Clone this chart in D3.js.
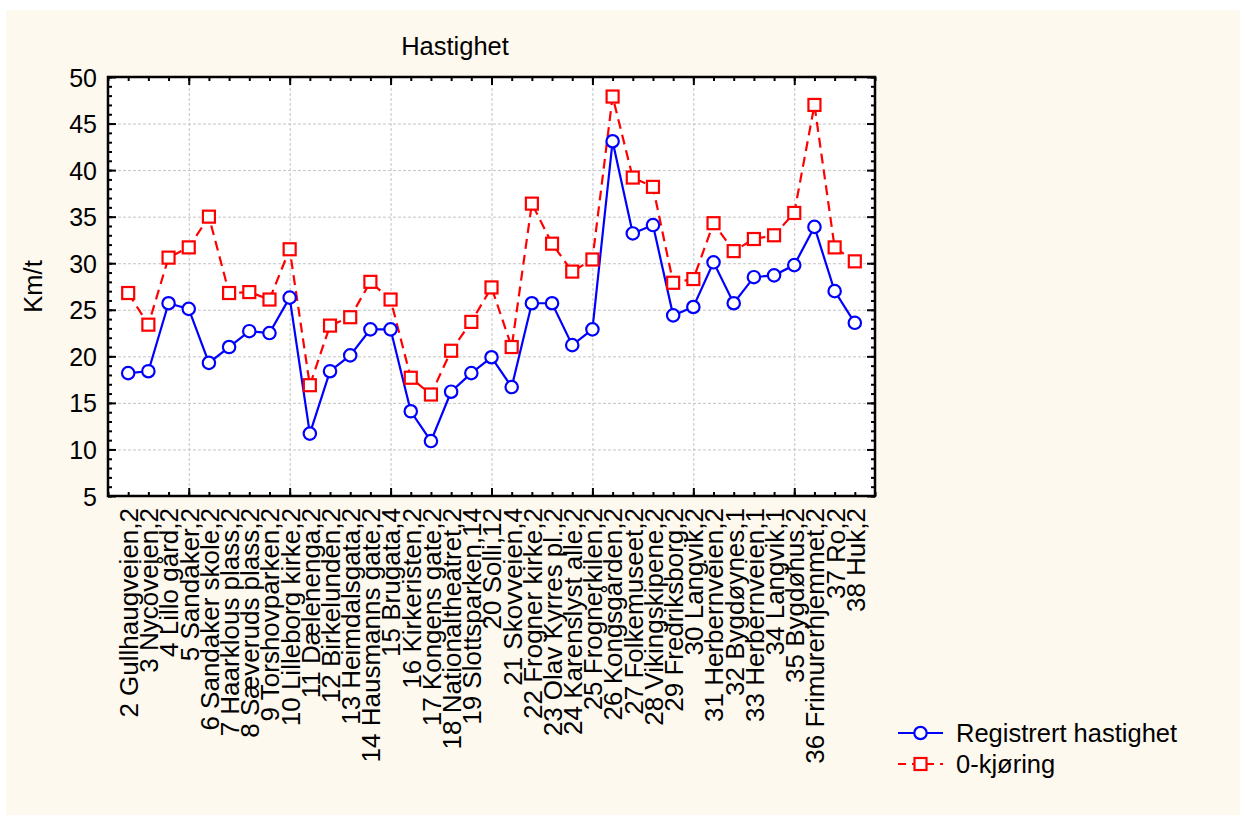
<!DOCTYPE html>
<html>
<head>
<meta charset="utf-8">
<script src="https://cdn.jsdelivr.net/npm/d3@7/dist/d3.min.js"></script>
<style>
  html, body { margin: 0; padding: 0; background: #ffffff; }
  svg { display: block; }
  text { font-family: "Liberation Sans", Arial, sans-serif; fill: #000; }
</style>
</head>
<body>
<svg id="chart" width="1245" height="818"></svg>
<script>
// ---- Data ----
const stations = [2,3,4,5,6,7,8,9,10,11,12,13,14,15,16,17,18,19,20,21,22,23,24,25,26,27,28,29,30,31,32,33,34,35,36,37,38];
const stationLabels = [
  "2 Gullhaugveien,2","3 Nycoveien,2","4 Lillo gård,2","5 Sandaker,2","6 Sandaker skole,2",
  "7 Haarklous plass,2","8 Sæveruds plass,2","9 Torshovparken,2","10 Lilleborg kirke,2","11 Dælenenga,2",
  "12 Birkelunden,2","13 Heimdalsgata,2","14 Hausmanns gate,2","15 Brugata,4","16 Kirkeristen,2",
  "17 Kongens gate,2","18 Nationaltheatret,2","19 Slottsparken,14","20 Solli,12","21 Skovveien,4",
  "22 Frogner kirke,2","23 Olav Kyrres pl.,2","24 Karenslyst alle,2","25 Frognerkilen,2","26 Kongsgården,2",
  "27 Folkemuseet,2","28 Vikingskipene,2","29 Fredriksborg,2","30 Langvik,2","31 Herbernveien,2",
  "32 Bygdøynes,1","33 Herbernveien,1","34 Langvik,1","35 Bygdøhus,2","36 Frimurerhjemmet,2",
  "37 Ro,2","38 Huk,2"
];
const registrert = [18.2,18.4,25.7,25.1,19.3,21.0,22.7,22.5,26.3,11.7,18.4,20.1,22.9,22.9,14.1,
  10.9,16.2,18.2,19.9,16.7,25.7,25.7,21.2,22.9,43.1,33.2,34.1,24.4,25.3,30.1,
  25.7,28.5,28.7,29.8,33.9,27.0,23.6];
const nullkjoring = [26.8,23.4,30.6,31.7,35.0,26.8,26.9,26.1,31.5,16.9,23.3,24.2,28.0,26.1,17.7,
  15.9,20.6,23.7,27.4,21.0,36.4,32.1,29.1,30.4,47.9,39.2,38.2,27.9,28.3,34.3,
  31.3,32.6,33.0,35.4,47.0,31.7,30.2];
const yTicks = [5,10,15,20,25,30,35,40,45,50];
const xMajor = [5,10,15,20,25,30,35];
const seriesNames = ["Registrert hastighet","0-kjøring"];
const title = "Hastighet";
const yTitle = "Km/t";

// ---- Layout ----
const L = 108, R = 875, T = 77, B = 496;
const FS = 25.5;
const blue = "#0000ff", red = "#ff0000";

const svg = d3.select("#chart");
svg.append("rect").attr("x",6).attr("y",10).attr("width",1234).attr("height",805).attr("fill","#fef9ef");
svg.append("rect").attr("x",L).attr("y",T).attr("width",R-L).attr("height",B-T).attr("fill","#ffffff");

const x = d3.scaleLinear().domain([1,39]).range([L,R]);
const y = d3.scaleLinear().domain([5,50]).range([B,T]);

// grid
const gridX = svg.append("g").attr("transform",`translate(0,${B})`)
  .call(d3.axisBottom(x).tickValues(xMajor).tickSize(-(B-T)).tickFormat(""));
const gridY = svg.append("g").attr("transform",`translate(${L},0)`)
  .call(d3.axisLeft(y).tickValues(yTicks.slice(1,-1)).tickSize(-(R-L)).tickFormat(""));
[gridX,gridY].forEach(g => {
  g.select(".domain").remove();
  g.selectAll("line").attr("stroke","#c4c4c4").attr("stroke-width",1).attr("stroke-dasharray","3,2");
});

// axes ticks (inward)
const minorX = d3.range(1,40);
const minorY = d3.range(5,51);
function styleAxis(g){ g.select(".domain").remove(); g.selectAll("line").attr("stroke","#000").attr("stroke-width",2); }

svg.append("g").attr("transform",`translate(0,${B})`).call(d3.axisBottom(x).tickValues(minorX).tickSize(-4).tickFormat("")).call(styleAxis);
svg.append("g").attr("transform",`translate(0,${B})`).call(d3.axisBottom(x).tickValues(xMajor).tickSize(-8).tickFormat("")).call(styleAxis);
svg.append("g").attr("transform",`translate(0,${T})`).call(d3.axisTop(x).tickValues(minorX).tickSize(-4).tickFormat("")).call(styleAxis);
svg.append("g").attr("transform",`translate(0,${T})`).call(d3.axisTop(x).tickValues(xMajor).tickSize(-8).tickFormat("")).call(styleAxis);
svg.append("g").attr("transform",`translate(${L},0)`).call(d3.axisLeft(y).tickValues(minorY).tickSize(-4).tickFormat("")).call(styleAxis);
const yAx = svg.append("g").attr("transform",`translate(${L},0)`)
  .call(d3.axisLeft(y).tickValues(yTicks).tickSize(-8).tickPadding(11).tickFormat(d3.format("d"))).call(styleAxis);
yAx.selectAll("text").attr("font-size",25).attr("font-family",null).attr("dy","0.36em");
svg.append("g").attr("transform",`translate(${R},0)`).call(d3.axisRight(y).tickValues(minorY).tickSize(-4).tickFormat("")).call(styleAxis);
svg.append("g").attr("transform",`translate(${R},0)`).call(d3.axisRight(y).tickValues(yTicks).tickSize(-8).tickFormat("")).call(styleAxis);

// x labels
const xLab = svg.append("g").attr("transform",`translate(0,${B})`)
  .call(d3.axisBottom(x).tickValues(stations).tickSize(0).tickFormat((d,i)=>stationLabels[i]));
xLab.select(".domain").remove();
xLab.selectAll("text").attr("font-size",26).attr("font-family",null)
  .attr("transform","rotate(-90)").attr("x",-12).attr("y",0).attr("dy","0.36em").attr("text-anchor","end");

// frame
svg.append("rect").attr("x",L).attr("y",T).attr("width",R-L).attr("height",B-T)
  .attr("fill","none").attr("stroke","#000").attr("stroke-width",2.5);

// lines
const lineGen = vals => d3.line().x((d,i)=>x(stations[i])).y(d=>y(d))(vals);
svg.append("path").attr("d",lineGen(registrert)).attr("fill","none").attr("stroke",blue).attr("stroke-width",2.2);
svg.append("path").attr("d",lineGen(nullkjoring)).attr("fill","none").attr("stroke",red).attr("stroke-width",2.2).attr("stroke-dasharray","10,6");

// markers
svg.append("g").selectAll("circle").data(registrert).join("circle")
  .attr("cx",(d,i)=>x(stations[i])).attr("cy",d=>y(d)).attr("r",6.2)
  .attr("fill","#fff").attr("stroke",blue).attr("stroke-width",2.2);
svg.append("g").selectAll("rect").data(nullkjoring).join("rect")
  .attr("x",(d,i)=>x(stations[i])-6).attr("y",d=>y(d)-6).attr("width",12).attr("height",12)
  .attr("fill","#fff").attr("stroke",red).attr("stroke-width",2.2);

// title & y label
svg.append("text").attr("x",455).attr("y",55).attr("text-anchor","middle").attr("font-size",FS).text(title);
svg.append("text").attr("transform",`translate(42,${(T+B)/2}) rotate(-90)`).attr("text-anchor","middle").attr("font-size",FS).text(yTitle);

// legend
const lg = svg.append("g");
lg.append("line").attr("x1",898).attr("x2",943).attr("y1",733).attr("y2",733).attr("stroke",blue).attr("stroke-width",2.2);
lg.append("circle").attr("cx",920.5).attr("cy",733).attr("r",6.2).attr("fill","#fff").attr("stroke",blue).attr("stroke-width",2.2);
lg.append("line").attr("x1",898).attr("x2",943).attr("y1",764).attr("y2",764).attr("stroke",red).attr("stroke-width",2.2).attr("stroke-dasharray","8,6");
lg.append("rect").attr("x",914.5).attr("y",758).attr("width",12).attr("height",12).attr("fill","#fff").attr("stroke",red).attr("stroke-width",2.2);
lg.append("text").attr("x",956).attr("y",742).attr("font-size",FS).text(seriesNames[0]);
lg.append("text").attr("x",956).attr("y",773).attr("font-size",FS).text(seriesNames[1]);
</script>
</body>
</html>
